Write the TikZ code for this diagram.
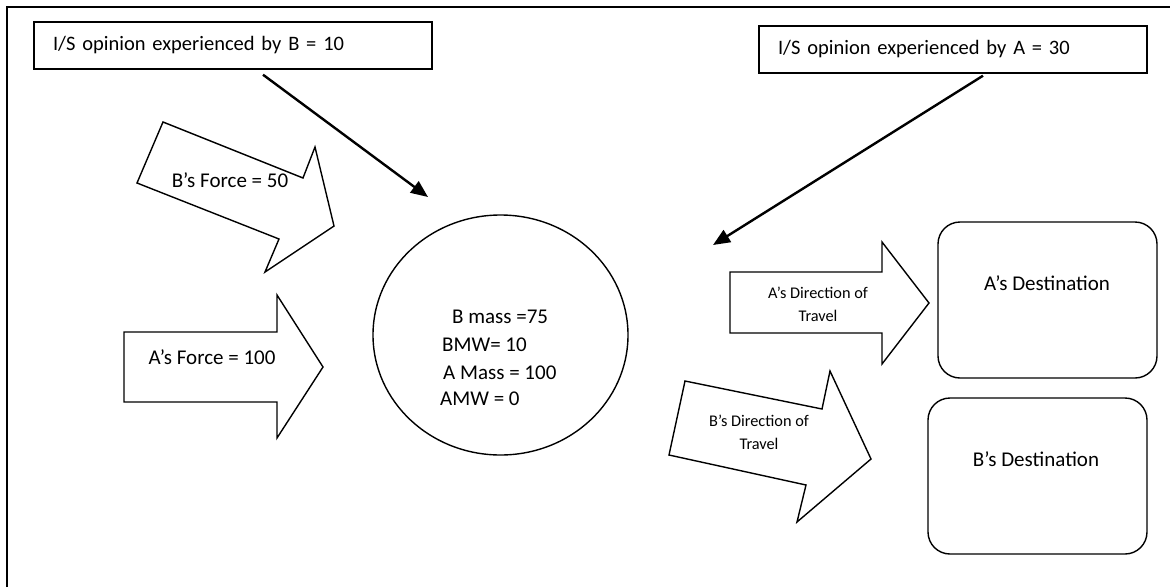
\documentclass[tikz,border=0pt]{standalone}
\usepackage{fontspec}
\setmainfont{Carlito}
\usetikzlibrary{shapes.geometric,arrows.meta}
\begin{document}
\begin{tikzpicture}[x=1pt,y=-1pt,
  lbl/.style={font=\fontsize{21}{25}\selectfont, inner sep=0pt},
  small/.style={font=\fontsize{16.3}{23}\selectfont, inner sep=0pt, align=center},
  isbox/.style={draw, line width=1.4pt, rectangle, align=left, inner ysep=0pt,
    minimum height=47pt, font=\fontsize{20.5}{24}\selectfont},
  blk/.style={draw, line width=1.4pt, line join=miter},
  destbox/.style={draw, line width=1.4pt, rectangle, rounded corners=22pt, inner sep=0pt},
  conn/.style={line width=2.4pt, -{Triangle[length=17pt,width=14pt]}}]
\useasboundingbox (0,0) rectangle (1170,587);

% outer frame (top and left edges)
\draw[line width=2.4pt] (7,587) -- (7,7) -- (1170,7);

% opinion boxes
\node[isbox, text width=360pt, inner xsep=19pt] (boxB) at (233,45.5) {I/S opinion experienced by B = 10};
\node[isbox, text width=350pt, inner xsep=19pt] (boxA) at (953,49.5) {I/S opinion experienced by A = 30};

% pointers from the opinion boxes
\coordinate (bTip) at (428,197);
\coordinate (aTip) at (713,245);
\draw[conn] ([xshift=30pt,yshift=-5pt]boxB.south) -- (bTip);
\draw[conn] ([xshift=30pt,yshift=-2pt]boxA.south) -- (aTip);

% force arrows
\draw[blk] (163,122) -- (303,178) -- (315,147) -- (334,226) -- (265,272) -- (279,239) -- (137,183) -- cycle;
\node[lbl] (bForce) at (230,180) {B’s Force = 50};
\draw[blk] (124,332) -- (277,332) -- (277,295) -- (323,367) -- (277,438) -- (277,402) -- (124,402) -- cycle;
\node[lbl] (aForce) at (212,357) {A’s Force = 100};

% central body
\node[draw, line width=1.4pt, ellipse, minimum width=255pt, minimum height=240pt] (body) at (500.5,335) {};
\node[lbl, anchor=west] (bMass) at (452,317) {B mass =75};
\node[lbl, anchor=west] (bmw) at (442,345) {BMW= 10};
\node[lbl, anchor=west] (aMass) at (443,373) {A Mass = 100};
\node[lbl, anchor=west] (amw) at (440,399) {AMW = 0};

% direction arrows
\draw[blk] (730,272) -- (882,272) -- (882,242) -- (929,303) -- (882,364) -- (882,333) -- (730,333) -- cycle;
\node[small] (aDir) at (818,304) {A’s Direction of\\Travel};
\draw[blk] (685,381) -- (822,409) -- (830,371) -- (871,459) -- (797,522) -- (806,485) -- (669,455) -- cycle;
\node[small] (bDir) at (759,432) {B’s Direction of\\Travel};

% destinations
\node[destbox, minimum width=219pt, minimum height=156pt] (aDest) at (1047.5,300) {};
\node[lbl] (aDestTxt) at (1047,283) {A’s Destination};
\node[destbox, minimum width=219pt, minimum height=156pt] (bDest) at (1037.5,476) {};
\node[lbl] (bDestTxt) at (1036,459) {B’s Destination};
\end{tikzpicture}
\end{document}
